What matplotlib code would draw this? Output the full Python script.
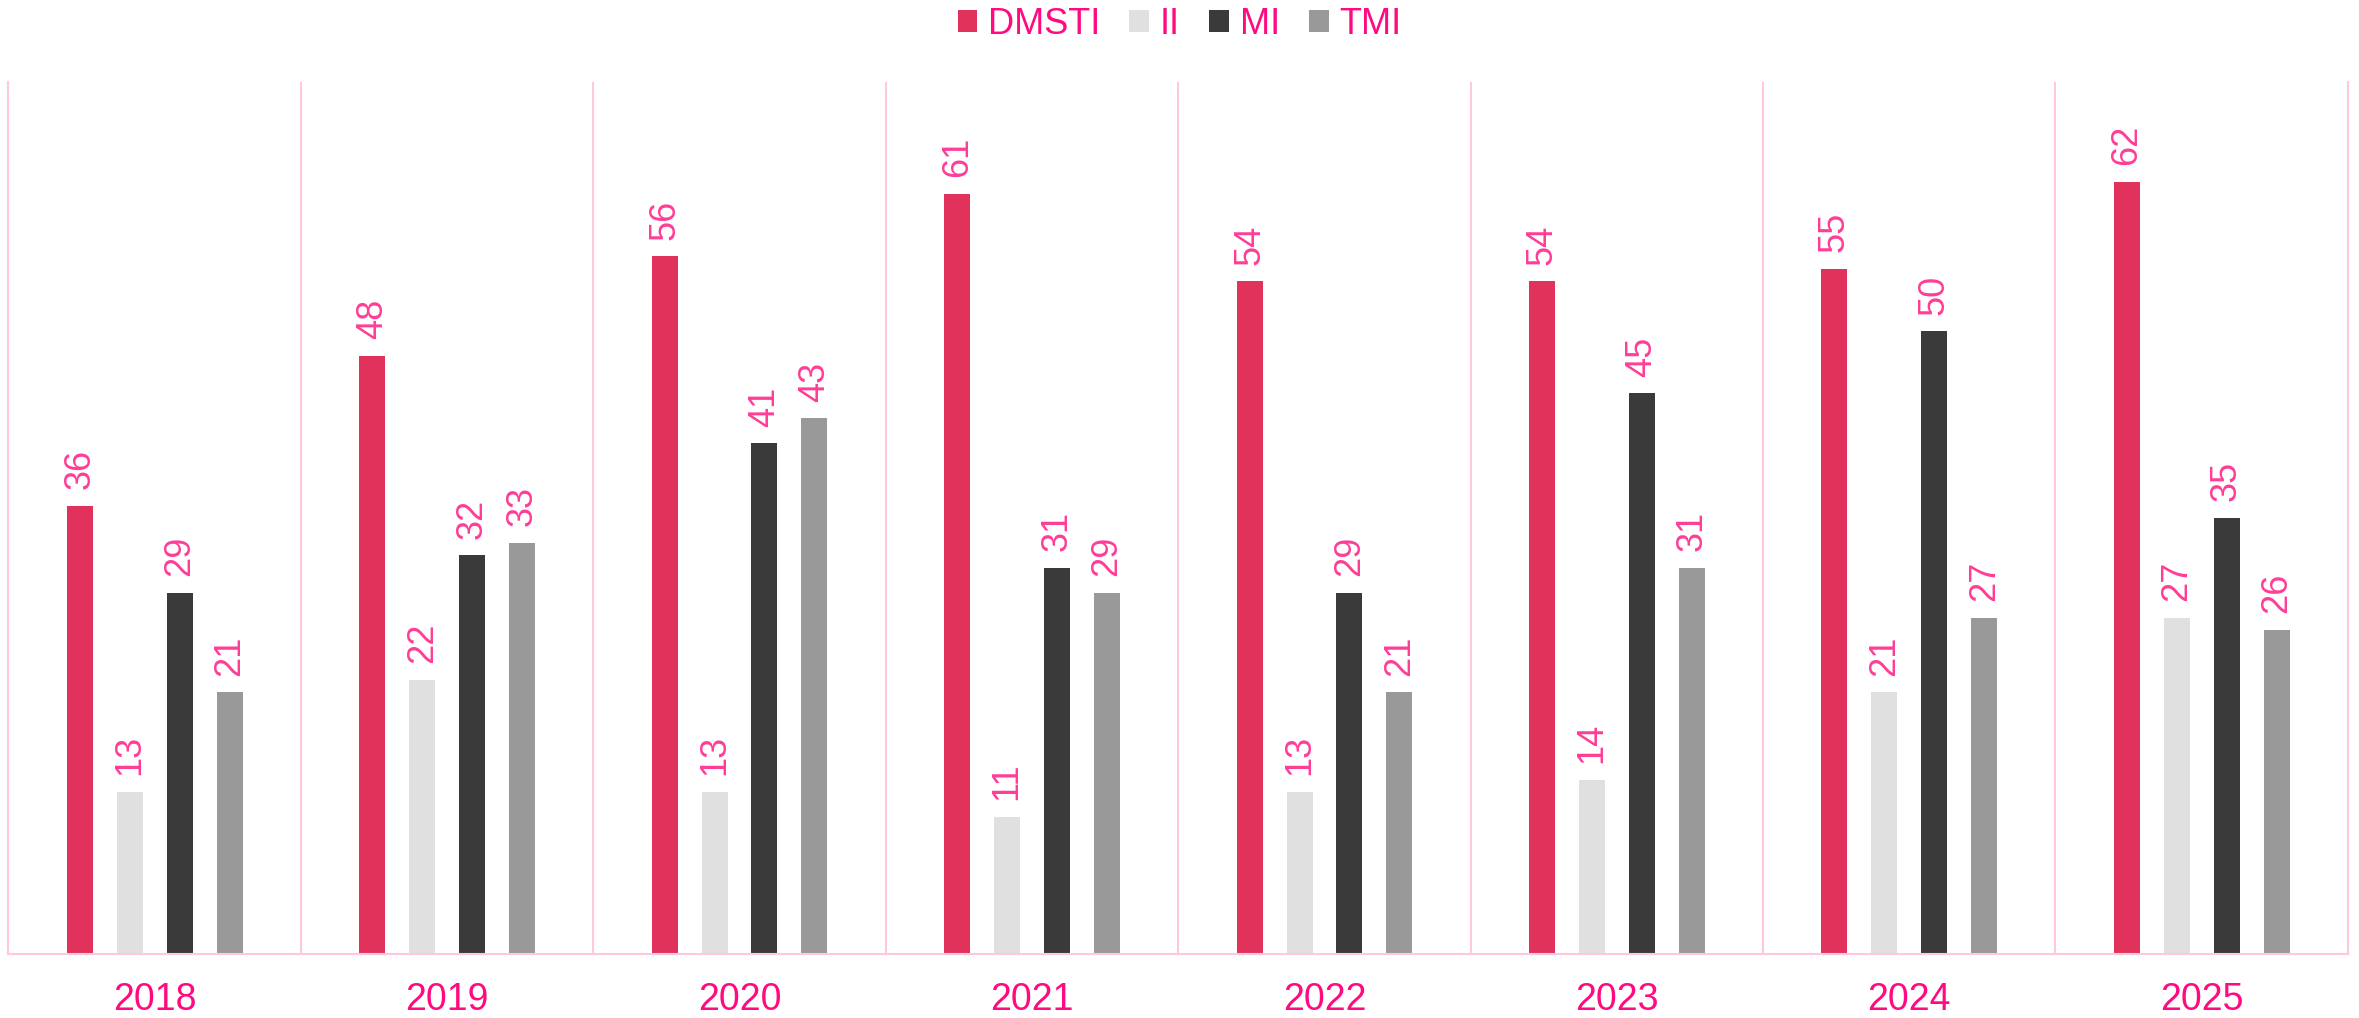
import matplotlib
matplotlib.use('Agg')
import matplotlib.pyplot as plt
import numpy as np

# chart data
years = ['2018', '2019', '2020', '2021', '2022', '2023', '2024', '2025']
series = ['DMSTI', 'II', 'MI', 'TMI']
dmsti = [36, 48, 56, 61, 54, 54, 55, 62]
ii = [13, 22, 13, 11, 13, 14, 21, 27]
mi = [29, 32, 41, 31, 29, 45, 50, 35]
tmi = [21, 33, 43, 29, 21, 31, 27, 26]

colors = ['#E0325A', '#E0E0E0', '#3A3A3A', '#999999']
pink_line = '#FFC8E0'
text_pink = '#FF0A80'
label_pink = '#FF3D96'

plt.rcParams['font.family'] = ['Liberation Sans', 'DejaVu Sans']

fig = plt.figure(figsize=(23.59, 10.18), dpi=100)
ax = fig.add_axes([0.0036, 0.0629, 0.9917, 0.8565])

x = np.arange(len(years))
offsets = [-0.256, -0.085, 0.085, 0.256]
width = 0.089
for vals, name, col, off in zip([dmsti, ii, mi, tmi], series, colors, offsets):
    bars = ax.bar(x + off, vals, width, color=col, label=name)
    for b, v in zip(bars, vals):
        ax.annotate(str(v), (b.get_x() + b.get_width() / 2, v),
                    xytext=(0, 12), textcoords='offset points',
                    rotation=90, ha='center', va='bottom',
                    fontsize=26, color=label_pink)

ax.set_xlim(-0.5, len(years) - 0.5)
ax.set_ylim(0, 70)
ax.set_yticks([])
ax.set_xticks(x)
ax.set_xticklabels(years, fontsize=27, color=text_pink)
ax.tick_params(axis='x', length=0, pad=20)

ax.spines['top'].set_visible(False)
for s in ['left', 'right', 'bottom']:
    ax.spines[s].set_color(pink_line)
    ax.spines[s].set_linewidth(1.5)
for b in np.arange(0.5, len(years) - 0.5):
    ax.axvline(b, color=pink_line, linewidth=1.5, zorder=0)

leg = fig.legend(loc='center', bbox_to_anchor=(0.5, 0.976), ncol=4,
                 frameon=False, fontsize=26, handlelength=0.55, handleheight=0.55,
                 handletextpad=0.3, columnspacing=0.8, borderpad=0)
for t in leg.get_texts():
    t.set_color(text_pink)

fig.savefig('out.png', dpi=100)
